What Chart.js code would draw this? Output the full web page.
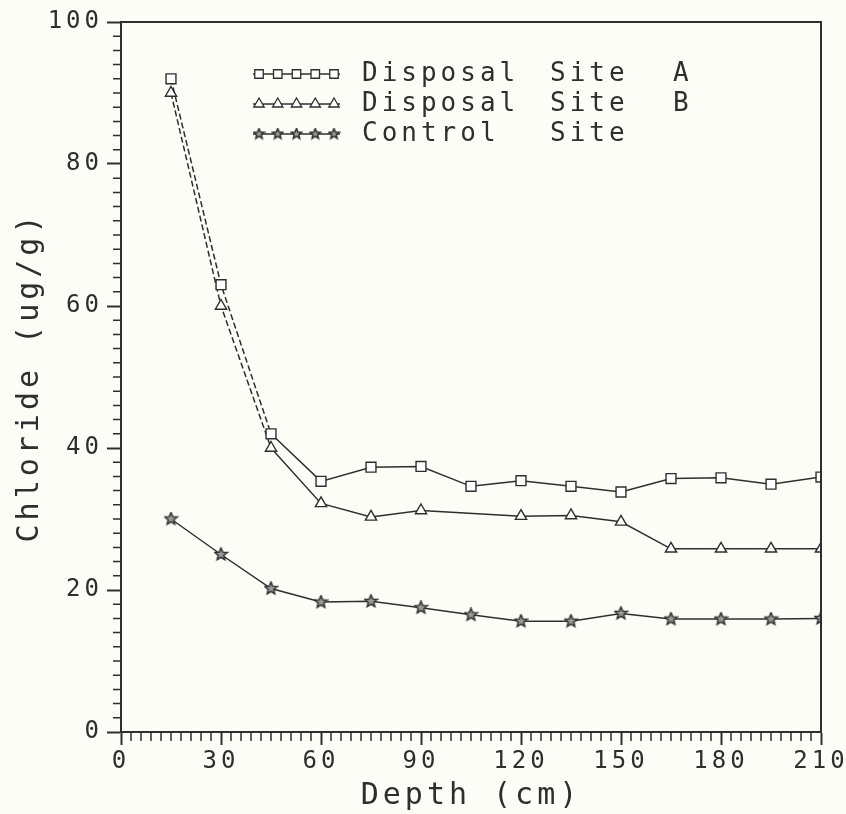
<!DOCTYPE html>
<html>
<head>
<meta charset="utf-8">
<title>Chloride vs Depth</title>
<script src="https://cdn.jsdelivr.net/npm/chart.js@4.4.1/dist/chart.umd.min.js"></script>
<style>
  html, body { margin: 0; padding: 0; background: #fdfdf8; }
  #wrap { width: 846px; height: 814px; }
</style>
</head>
<body>
<div id="wrap"><canvas id="chart" width="846" height="814"></canvas></div>
<script>
// values
const depths  = [15, 30, 45, 60, 75, 90, 105, 120, 135, 150, 165, 180, 195, 210];
const siteA   = [92, 63, 42, 35.3, 37.3, 37.4, 34.6, 35.4, 34.6, 33.8, 35.7, 35.8, 34.9, 35.9];
const siteB   = [90, 60, 40, 32.2, 30.3, 31.2, null, 30.4, 30.5, 29.6, 25.8, 25.8, 25.8, 25.8];
const control = [30, 25, 20.2, 18.3, 18.4, 17.5, 16.5, 15.6, 15.6, 16.7, 15.9, 15.9, 15.9, 16.0];
const seriesLabels = ['Disposal Site A', 'Disposal Site B', 'Control Site'];
const xTicks = [0, 30, 60, 90, 120, 150, 180, 210];
const yTicks = [0, 20, 40, 60, 80, 100];

const ink = '#2e2e2e';
const FONT = "'DejaVu Sans Mono', monospace";

// five pointed star marker (Chart.js 'star' is an asterisk)
function starCanvas(size) {
  const c = document.createElement('canvas');
  c.width = size; c.height = size;
  const g = c.getContext('2d');
  const cx = size / 2, cy = size / 2, R = size / 2 - 1, r = R * 0.45;
  g.beginPath();
  for (let i = 0; i < 10; i++) {
    const rad = i % 2 ? r : R;
    const ang = -Math.PI / 2 + i * Math.PI / 5;
    const px = cx + rad * Math.cos(ang), py = cy + rad * Math.sin(ang);
    i ? g.lineTo(px, py) : g.moveTo(px, py);
  }
  g.closePath();
  g.fillStyle = '#9a9a9a';
  g.fill();
  g.lineWidth = 1.5;
  g.strokeStyle = ink;
  g.stroke();
  return c;
}
const bigStar = starCanvas(15);
const smallStar = starCanvas(13);

function toPoints(vals) {
  return depths.map((d, i) => ({ x: d, y: vals[i] }));
}

// the first steep segments look dashed on the plot
const steepDash = ctx => ctx.p0.parsed.x < 45 ? [6, 3] : undefined;

function lineSet(label, vals, style, radius, legendStyle) {
  return {
    label: label,
    data: toPoints(vals),
    borderColor: ink,
    borderWidth: 1.5,
    backgroundColor: '#fff',
    pointStyle: style,
    pointRadius: radius,
    pointBorderWidth: 1.4,
    pointBorderColor: ink,
    pointBackgroundColor: '#fff',
    spanGaps: true,
    tension: 0,
    legendStyle: legendStyle
  };
}

const datasets = [
  lineSet(seriesLabels[0], siteA, 'rect', 7, 'rect'),
  lineSet(seriesLabels[1], siteB, 'triangle', 6.5, 'triangle'),
  lineSet(seriesLabels[2], control, bigStar, 7, smallStar)
];
datasets[0].segment = { borderDash: steepDash };
datasets[1].segment = { borderDash: steepDash };

// spacing of the plotter lettering
const spacingPlugin = {
  id: 'spacing',
  beforeDraw(chart) { chart.ctx.letterSpacing = '4px'; }
};

// frame box + minor ticks
const framePlugin = {
  id: 'frame',
  afterDraw(chart) {
    const ctx = chart.ctx, a = chart.chartArea;
    const xs = chart.scales.x, ys = chart.scales.y;
    ctx.save();
    ctx.strokeStyle = ink;
    ctx.lineWidth = 2;
    ctx.strokeRect(a.left, a.top, a.right - a.left, a.bottom - a.top);
    ctx.lineWidth = 1.5;
    ctx.beginPath();
    for (let v = xs.min; v <= xs.max; v += 3) {
      if (v % 30 === 0) continue;
      const px = xs.getPixelForValue(v);
      ctx.moveTo(px, a.bottom);
      ctx.lineTo(px, a.bottom + 9);
    }
    for (let v = ys.min; v <= ys.max; v += 2) {
      if (v % 20 === 0) continue;
      const py = ys.getPixelForValue(v);
      ctx.moveTo(a.left, py);
      ctx.lineTo(a.left - 8, py);
    }
    ctx.stroke();
    ctx.restore();
  }
};

// legend drawn inside the plot, words in columns like the original
const legendPlugin = {
  id: 'boxLegend',
  afterDatasetsDraw(chart) {
    const ctx = chart.ctx, a = chart.chartArea;
    const cols = [a.left + 241, a.left + 429, a.left + 552];
    chart.data.datasets.forEach((ds, i) => {
      const y = a.top + 52 + i * 30;
      const x0 = a.left + 132, x1 = a.left + 219;
      ctx.save();
      ctx.strokeStyle = ink;
      ctx.fillStyle = '#fff';
      ctx.lineWidth = 1.6;
      ctx.beginPath();
      ctx.moveTo(x0, y);
      ctx.lineTo(x1, y);
      ctx.stroke();
      ctx.lineWidth = 1.3;
      for (let k = 0; k < 5; k++) {
        const mx = x0 + 6 + k * (x1 - x0 - 12) / 4;
        Chart.helpers.drawPoint(ctx, { pointStyle: ds.legendStyle, radius: 6, borderWidth: 1.3, rotation: 0 }, mx, y);
      }
      ctx.fillStyle = ink;
      ctx.font = '26px ' + FONT;
      ctx.textBaseline = 'middle';
      ctx.textAlign = 'left';
      ds.label.split(/\s+/).forEach((w, j) => ctx.fillText(w, cols[j], y));
      ctx.restore();
    });
  }
};

new Chart(document.getElementById('chart'), {
  type: 'line',
  data: { datasets: datasets },
  plugins: [spacingPlugin, framePlugin, legendPlugin],
  options: {
    responsive: false,
    animation: false,
    layout: { padding: { top: 22, right: 25, left: 0, bottom: 0 } },
    plugins: {
      legend: { display: false },
      tooltip: { enabled: false }
    },
    scales: {
      x: {
        type: 'linear',
        min: 0,
        max: 210,
        afterBuildTicks: s => { s.ticks = xTicks.map(v => ({ value: v })); },
        afterFit: s => { s.height = 82; s.paddingLeft = 0; s.paddingRight = 0; },
        grid: { drawOnChartArea: false, tickLength: 13, tickColor: ink, tickWidth: 2 },
        border: { display: true, color: ink, width: 2 },
        ticks: { color: ink, font: { family: FONT, size: 24 }, padding: 2, maxRotation: 0 },
        title: { display: true, text: 'Depth (cm)', color: ink, font: { family: FONT, size: 30 }, padding: { top: 0, bottom: 0 } }
      },
      y: {
        min: 0,
        max: 100,
        afterBuildTicks: s => { s.ticks = yTicks.map(v => ({ value: v })); },
        afterFit: s => { s.width = 121; s.paddingTop = 0; s.paddingBottom = 0; },
        grid: { drawOnChartArea: false, tickLength: 14, tickColor: ink, tickWidth: 2 },
        border: { display: true, color: ink, width: 2 },
        ticks: { color: ink, font: { family: FONT, size: 24 }, padding: 4 },
        title: { display: true, text: 'Chloride (ug/g)', color: ink, font: { family: FONT, size: 30 }, padding: { top: 12, bottom: 0 } }
      }
    }
  }
});
</script>
</body>
</html>
